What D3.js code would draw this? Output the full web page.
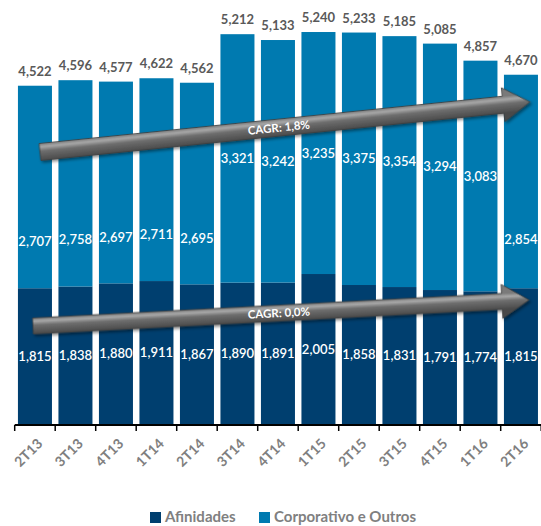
<!DOCTYPE html>
<html><head><meta charset="utf-8">
<script src="https://cdn.jsdelivr.net/npm/d3@7"></script>
<style>
html,body{margin:0;padding:0;background:#fff;}
svg{display:block;font-family:Lato,"Open Sans",sans-serif;}
</style></head>
<body>
<svg id="chart" width="541" height="526"></svg>
<script>
const categories = ["2T13","3T13","4T13","1T14","2T14","3T14","4T14","1T15","2T15","3T15","4T15","1T16","2T16"];
const afinidades = [1815,1838,1880,1911,1867,1890,1891,2005,1858,1831,1791,1774,1815];
const corporativo = [2707,2758,2697,2711,2695,3321,3242,3235,3375,3354,3294,3083,2854];
const totals = [4522,4596,4577,4622,4562,5212,5133,5240,5233,5185,5085,4857,4670];
const seriesNames = ["Afinidades","Corporativo e Outros"];
const cagrLabels = ["CAGR: 1,8%","CAGR: 0,0%"];

const cDark = "#003F6F", cLight = "#007AB0";
const fmt = d3.format(",");
const svg = d3.select("#chart");

const x = d3.scaleBand().domain(categories).range([14.7, 14.7 + 13*40.5]).paddingInner(0.16).paddingOuter(0.08);
const y = d3.scaleLinear().domain([0, 5668]).range([424, 0]);

const data = categories.map((c,i)=>({c, a:afinidades[i], k:corporativo[i], t:totals[i]}));

// bars
const g = svg.append("g");
g.selectAll("rect.a").data(data).join("rect")
  .attr("x", d=>x(d.c)).attr("width", x.bandwidth())
  .attr("y", d=>y(d.a)).attr("height", d=>y(0)-y(d.a)).attr("fill", cDark);
g.selectAll("rect.k").data(data).join("rect")
  .attr("x", d=>x(d.c)).attr("width", x.bandwidth())
  .attr("y", d=>y(d.a+d.k)).attr("height", d=>y(d.a)-y(d.a+d.k)).attr("fill", cLight);

// axis
const step = x.step();
const x0 = x.range()[0];
svg.append("line").attr("x1", x0).attr("x2", 541).attr("y1", y(0)+1).attr("y2", y(0)+1)
  .attr("stroke","#000").attr("stroke-width",2);
svg.selectAll("line.tick").data(d3.range(14)).join("line")
  .attr("x1", i=>x0+i*step).attr("x2", i=>x0+i*step)
  .attr("y1", y(0)+1).attr("y2", y(0)+7).attr("stroke","#000").attr("stroke-width",1.5);

svg.selectAll("text.xl").data(categories).join("text")
  .attr("transform", c=>`translate(${x(c)+x.bandwidth()/2+5},${y(0)+17}) rotate(-45)`)
  .attr("text-anchor","end").attr("dy","0.35em")
  .attr("font-size",14).attr("font-weight",700).attr("fill","#808080").text(c=>c);

// labels
svg.selectAll("text.tot").data(data).join("text")
  .attr("x", d=>x(d.c)+x.bandwidth()/2).attr("y", d=>y(d.t)-10)
  .attr("text-anchor","middle").attr("font-size",13).attr("font-weight",700).attr("fill","#595959")
  .text(d=>fmt(d.t));
svg.selectAll("text.al").data(data).join("text")
  .attr("x", d=>x(d.c)+x.bandwidth()/2).attr("y", d=>y(d.a/2))
  .attr("dy","0.35em").attr("text-anchor","middle").attr("font-size",13).attr("font-weight",600).attr("fill","#fff")
  .text(d=>fmt(d.a));
svg.selectAll("text.kl").data(data).join("text")
  .attr("x", d=>x(d.c)+x.bandwidth()/2).attr("y", d=>y(d.a + d.k*(d.t<4700?0.23:0.5)))
  .attr("dy","0.35em").attr("text-anchor","middle").attr("font-size",13).attr("font-weight",600).attr("fill","#fff")
  .text(d=>fmt(d.k));

// arrows
const defs = svg.append("defs");
const f = defs.append("filter").attr("id","sh").attr("x","-10%").attr("y","-50%").attr("width","120%").attr("height","200%");
f.append("feDropShadow").attr("dx",1.5).attr("dy",2).attr("stdDeviation",1.5).attr("flood-color","#000").attr("flood-opacity",0.45);

function arrow(id, sx, sy, tx, ty, h, H, hl, label){
  const L = Math.hypot(tx-sx, ty-sy);
  const ang = Math.atan2(ty-sy, tx-sx)*180/Math.PI;
  const gr = defs.append("linearGradient").attr("id",id).attr("gradientUnits","userSpaceOnUse")
    .attr("x1",0).attr("y1",-h).attr("x2",0).attr("y2",h);
  gr.append("stop").attr("offset","0").attr("stop-color","#7a7a7a");
  gr.append("stop").attr("offset","0.2").attr("stop-color","#a8a8a8");
  gr.append("stop").attr("offset","0.45").attr("stop-color","#6e6e6e");
  gr.append("stop").attr("offset","1").attr("stop-color","#4a4a4a");
  const ag = svg.append("g").attr("transform",`translate(${sx},${sy}) rotate(${ang})`);
  const pts = [[0,-h],[L-hl,-h],[L-hl,-H],[L,0],[L-hl,H],[L-hl,h],[0,h]];
  ag.append("polygon").attr("points", pts.map(p=>p.join(",")).join(" "))
    .attr("fill",`url(#${id})`).attr("stroke","#3c3c3c").attr("stroke-width",0.8).attr("filter","url(#sh)");
  const mid = (x.range()[0]+541)/2 - 1;
  ag.append("text").attr("x", (mid+2-sx)/Math.cos(ang*Math.PI/180)).attr("y",0).attr("dy","0.35em")
    .attr("text-anchor","middle").attr("font-size",11.5).attr("font-weight",700).attr("fill","#fff").text(label);
}
arrow("g1", 40, 152, 530, 102, 8.5, 17, 27, cagrLabels[0]);
arrow("g2", 33, 326, 529, 300, 8, 17, 27, cagrLabels[1]);

// legend
const leg = svg.append("g");
const lx = [150, 259];
[cDark, cLight].forEach((c,i)=>{
  leg.append("rect").attr("x",lx[i]).attr("y",512).attr("width",11).attr("height",11).attr("fill",c);
  leg.append("text").attr("x",lx[i]+15).attr("y",522).attr("font-size",15).attr("font-weight",700)
    .attr("fill","#808080").text(seriesNames[i]);
});
</script>
</body></html>
